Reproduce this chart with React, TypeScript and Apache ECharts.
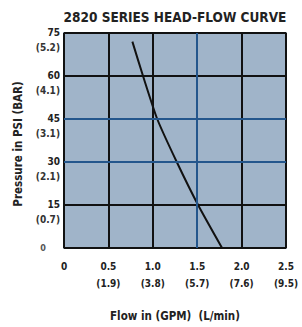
import React, { useEffect, useRef } from "react";
import * as echarts from "echarts";

const title = "2820 SERIES HEAD-FLOW CURVE";
const yName = "Pressure in PSI (BAR)";
const xName = "Flow in (GPM)  (L/min)";
const xTicks = [0, 0.5, 1.0, 1.5, 2.0, 2.5];
const xTickLabels = ["0", "0.5\n(1.9)", "1.0\n(3.8)", "1.5\n(5.7)", "2.0\n(7.6)", "2.5\n(9.5)"];
const yTicks = [0, 15, 30, 45, 60, 75];
const yTickMain = ["0", "15", "30", "45", "60", "75"];
const yTickSub = ["", "(0.7)", "(2.1)", "(3.1)", "(4.1)", "(5.2)"];
const flowGpm = [0.77, 0.89, 1.05, 1.27, 1.51, 1.78];
const pressurePsi = [72, 60, 45, 30, 15, 0];
const blueY = [30, 45];
const blueX = [1.5];

const FONT = "DejaVu Sans Condensed";

export default function App() {
  const ref = useRef<HTMLDivElement>(null);
  useEffect(() => {
    if (!ref.current) return;
    const chart = echarts.init(ref.current, undefined, { renderer: "svg" });
    chart.setOption({
      animation: false,
      graphic: [
        {
          type: "text",
          x: 175,
          y: 17,
          style: {
            text: title,
            fontFamily: FONT,
            fontWeight: "bold",
            fontSize: 13.5,
            fill: "#222",
            align: "center",
            verticalAlign: "middle",
          },
        },
        {
          type: "text",
          x: 18,
          y: 144,
          rotation: Math.PI / 2,
          style: {
            text: yName,
            fontFamily: FONT,
            fontWeight: "bold",
            fontSize: 11.5,
            fill: "#222",
            align: "center",
            verticalAlign: "middle",
          },
        },
      ],
      grid: {
        left: 64,
        right: 16,
        top: 33,
        bottom: 70,
        show: true,
        backgroundColor: "#a0b4c9",
        borderColor: "#3a4a5c",
        borderWidth: 1.5,
      },
      xAxis: {
        type: "value",
        min: 0,
        max: 2.5,
        interval: 0.5,
        name: xName,
        nameLocation: "middle",
        nameGap: 62,
        nameTextStyle: { fontFamily: FONT, fontWeight: "bold", fontSize: 11.5, color: "#222" },
        axisLine: { show: false },
        axisTick: { show: false },
        splitLine: { show: true, lineStyle: { color: "#111", width: 2 } },
        axisLabel: {
          margin: 10,
          fontFamily: FONT,
          fontWeight: "bold",
          fontSize: 10,
          color: "#222",
          lineHeight: 17,
          formatter: (v: number) => {
            const i = xTicks.findIndex((t) => Math.abs(t - v) < 1e-6);
            return i >= 0 ? xTickLabels[i] : "";
          },
        },
      },
      yAxis: {
        type: "value",
        min: 0,
        max: 75,
        interval: 15,
        axisLine: { show: false },
        axisTick: { show: false },
        splitLine: { show: true, lineStyle: { color: "#111", width: 2 } },
        axisLabel: {
          margin: 4,
          fontFamily: FONT,
          fontWeight: "bold",
          fontSize: 10,
          color: "#222",
          formatter: (v: number) => {
            const i = yTicks.findIndex((t) => Math.abs(t - v) < 1e-6);
            if (i < 0) return "";
            if (!yTickSub[i]) return "{z|" + yTickMain[i] + "}";
            return "{s| }\n{a|" + yTickMain[i] + "}\n{b|" + yTickSub[i] + "}";
          },
          rich: {
            s: { fontSize: 1, lineHeight: 13 },
            a: { fontFamily: FONT, fontWeight: "bold", fontSize: 10, color: "#222", lineHeight: 15 },
            b: { fontFamily: FONT, fontWeight: "bold", fontSize: 10, color: "#333", lineHeight: 15 },
            z: { fontFamily: FONT, fontWeight: "bold", fontSize: 9, color: "#555", padding: [0, 14, 0, 0] },
          },
        },
      },
      series: [
        {
          type: "line",
          data: [],
          silent: true,
          z: 1,
          markLine: {
            silent: true,
            symbol: "none",
            label: { show: false },
            lineStyle: { color: "#24568c", width: 2, type: "solid" },
            data: [
              ...blueY.map((y) => ({ yAxis: y })),
              ...blueX.map((x) => ({ xAxis: x })),
            ],
          },
        },
        {
          type: "line",
          z: 3,
          smooth: 0.2,
          symbol: "none",
          lineStyle: { color: "#111", width: 2 },
          data: flowGpm.map((x, i) => [x, pressurePsi[i]]),
        },
      ],
    });
    return () => chart.dispose();
  }, []);
  return (
    <div
      ref={ref}
      style={{ position: "absolute", left: 0, top: 0, width: 302, height: 327 }}
    />
  );
}
